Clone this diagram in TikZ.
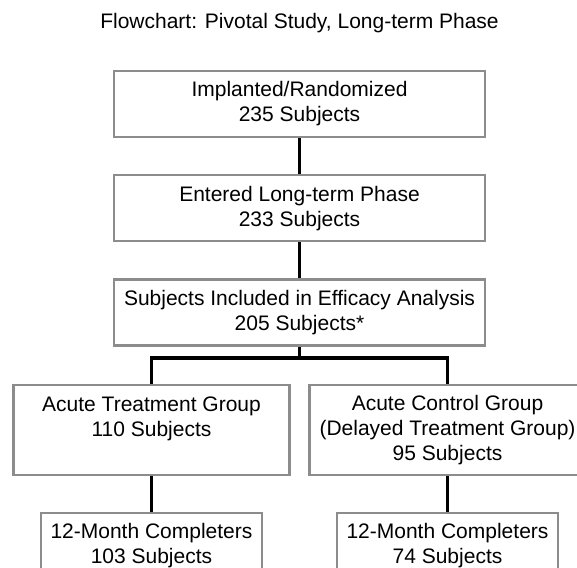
\documentclass[tikz,border=0pt]{standalone}
\usepackage{fontspec}
\setmainfont{Liberation Sans}
\usepackage{xcolor}
\usetikzlibrary{positioning}
\definecolor{boxgray}{HTML}{8C8C8C}

\begin{document}
\begin{tikzpicture}[
  x=1pt, y=-1pt,
  node distance=36pt,
  stagebox/.style={draw=boxgray, line width=2.2pt, align=center, inner sep=0pt,
                   minimum width=371pt, minimum height=66pt,
                   font=\fontsize{21}{25}\selectfont},
  groupbox/.style={stagebox, minimum width=276pt, minimum height=90pt},
  endbox/.style={stagebox, minimum width=221pt},
  link/.style={line width=3.2pt}
]
  \clip (0,0) rectangle (577,567);
  \fill[white] (0,0) rectangle (577,567);
  \node[anchor=base, font=\fontsize{21}{25}\selectfont] (title) at (299.5,28.5)
    {Flowchart: Pivotal Study, Long-term Phase};
  \node[stagebox] (impl) at (299.5,104) {Implanted/Randomized\\235 Subjects};
  \node[stagebox, below=of impl] (ltp) {Entered Long-term Phase\\233 Subjects};
  \node[stagebox, below=of ltp] (eff) {Subjects Included in Efficacy Analysis\\205 Subjects*};
  \node[groupbox, below=37pt of eff, xshift=-148pt] (treat) {Acute Treatment Group\\110 Subjects\\\mbox{}};
  \node[groupbox, below=37pt of eff, xshift=148pt] (ctrl) {Acute Control Group\\(Delayed Treatment Group)\\95 Subjects};
  \node[endbox, below=of treat] (treatdone) {12-Month Completers\\103 Subjects};
  \node[endbox, below=of ctrl] (ctrldone) {12-Month Completers\\74 Subjects};
  \coordinate (split) at (299.5,358);
  \draw[link] (impl) -- (ltp);
  \draw[link] (ltp) -- (eff);
  \draw[link] (eff) -- (split);
  \draw[link] (treat.north) |- (split) -| (ctrl.north);
  \draw[link] (treat) -- (treatdone);
  \draw[link] (ctrl) -- (ctrldone);
\end{tikzpicture}
\end{document}
